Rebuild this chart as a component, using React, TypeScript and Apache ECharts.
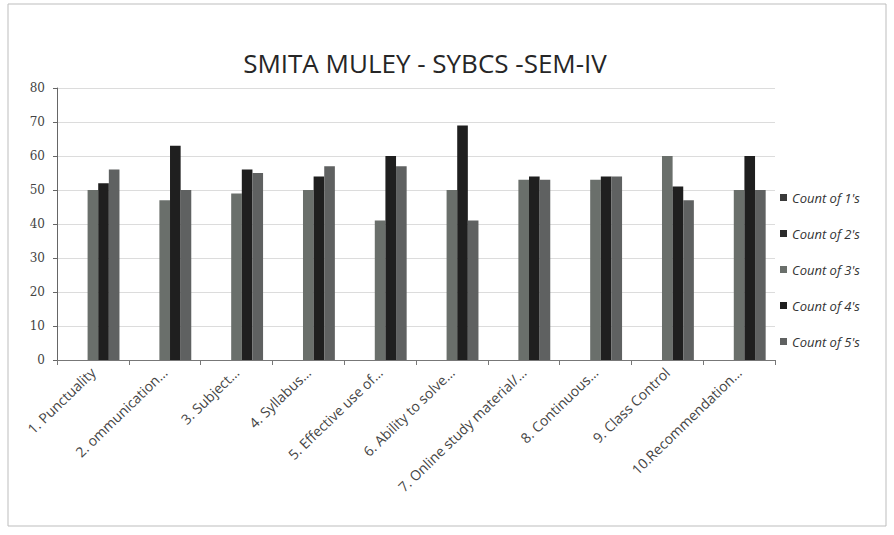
import React, { useEffect, useRef } from "react";
import * as echarts from "echarts";

const categories = [
  "1. Punctuality",
  "2. ommunication…",
  "3. Subject…",
  "4. Syllabus…",
  "5. Effective use of…",
  "6. Ability to solve…",
  "7. Online study material/…",
  "8. Continuous…",
  "9. Class Control",
  "10.Recommendation…",
];
const seriesNames = ["Count of 1's", "Count of 2's", "Count of 3's", "Count of 4's", "Count of 5's"];
const count1 = [0, 0, 0, 0, 0, 0, 0, 0, 0, 0];
const count2 = [0, 0, 0, 0, 0, 0, 0, 0, 0, 0];
const count3 = [50, 47, 49, 50, 41, 50, 53, 53, 60, 50];
const count4 = [52, 63, 56, 54, 60, 69, 54, 54, 51, 60];
const count5 = [56, 50, 55, 57, 57, 41, 53, 54, 47, 50];
const yTicks = [0, 10, 20, 30, 40, 50, 60, 70, 80];

const colors = ["#3a3a3a", "#2b2b2b", "#6a6f6b", "#1f1f1f", "#5f6161"];

export default function App() {
  const ref = useRef<HTMLDivElement>(null);
  useEffect(() => {
    document.body.style.margin = "0";
    const chart = echarts.init(ref.current!, undefined, { renderer: "svg" });
    const data = [count1, count2, count3, count4, count5];
    chart.setOption({
      animation: false,
      backgroundColor: "#ffffff",
      color: colors,
      title: {
        text: "SMITA MULEY - SYBCS -SEM-IV",
        left: 420,
        textAlign: "center",
        top: 45,
        textStyle: {
          fontFamily: "Open Sans",
          fontSize: 26,
          fontWeight: "normal",
          color: "#262626",
        },
      },
      legend: {
        orient: "vertical",
        left: 775,
        top: 186,
        itemWidth: 7,
        itemHeight: 7,
        itemGap: 23,
        icon: "rect",
        data: seriesNames,
        textStyle: {
          fontFamily: "Open Sans",
          fontSize: 13,
          fontStyle: "italic",
          color: "#333",
        },
      },
      grid: { left: 57, right: 119, top: 88, bottom: 175 },
      xAxis: {
        type: "category",
        data: categories,
        axisLine: { lineStyle: { color: "#777" } },
        axisTick: { show: true, alignWithLabel: false, lineStyle: { color: "#777" } },
        axisLabel: {
          rotate: 44,
          interval: 0,
          fontFamily: "Open Sans",
          fontSize: 14,
          color: "#444",
          margin: 10,
        },
      },
      yAxis: {
        type: "value",
        min: yTicks[0],
        max: yTicks[yTicks.length - 1],
        interval: 10,
        axisLine: { show: true, lineStyle: { color: "#666" } },
        axisTick: { show: true, length: 4, lineStyle: { color: "#666" } },
        axisLabel: {
          fontFamily: "DejaVu Serif",
          fontSize: 12,
          color: "#444",
          margin: 12,
        },
        splitLine: { lineStyle: { color: "#dcdcdc" } },
      },
      series: seriesNames.map((name, i) => ({
        name,
        type: "bar",
        data: data[i],
        barGap: "0%",
        barCategoryGap: "26%",
        itemStyle: { color: colors[i] },
      })),
      graphic: [
        {
          type: "rect",
          shape: { x: 8, y: 4, width: 878, height: 522 },
          style: { fill: "none", stroke: "#bdbdbd", lineWidth: 1 },
          silent: true,
        },
      ],
    });
    return () => chart.dispose();
  }, []);
  return <div ref={ref} style={{ width: 894, height: 535 }} />;
}
